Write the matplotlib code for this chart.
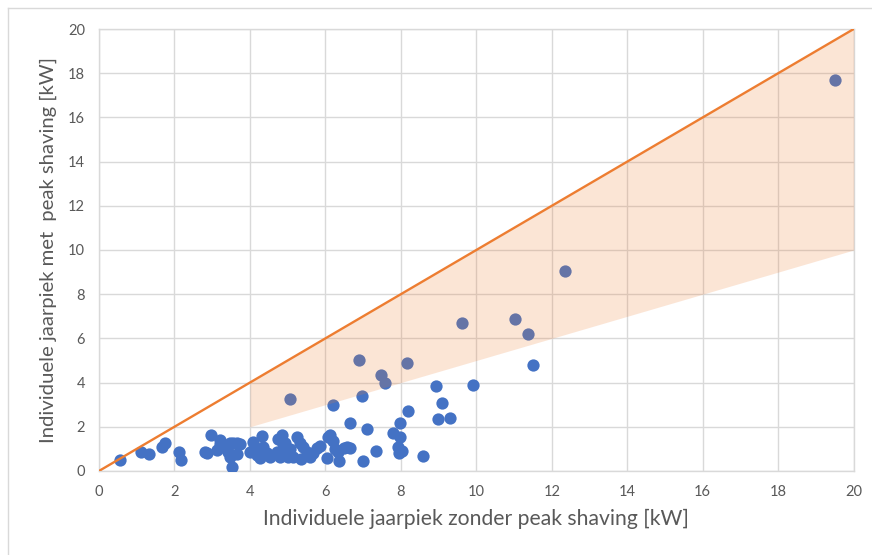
import matplotlib
matplotlib.use("Agg")
import matplotlib.pyplot as plt
from matplotlib.lines import Line2D

# =========================
# DATA
# =========================
# jaarpiek zonder peak shaving [kW]
piek_zonder = [
    0.56, 1.12, 1.33, 1.68, 1.75, 2.13, 2.18, 2.80, 2.85, 2.98,
    3.12, 3.20, 3.20, 3.29, 3.38, 3.43, 3.47, 3.47, 3.56, 3.65,
    3.65, 3.52, 3.75, 4.00, 4.09, 4.12, 4.18, 4.18, 4.26, 4.31,
    4.35, 4.45, 4.53, 4.71, 4.75, 4.84, 4.88, 4.93, 4.80, 4.97,
    5.06, 5.00, 5.15, 5.24, 5.32, 5.35, 5.41, 5.50, 5.59, 5.68,
    5.77, 5.85, 6.03, 6.07, 6.12, 6.21, 6.25, 6.34, 6.36, 6.56,
    6.65, 6.50,
    5.07, 6.21, 6.90, 6.98, 7.48, 7.57, 8.15, 8.92, 9.90, 9.08,
    8.20, 8.98, 9.30, 6.66, 7.11, 7.98, 7.80, 7.99, 7.93, 8.02,
    7.95, 7.35, 7.00, 8.60, 9.62, 11.02, 11.38, 11.50, 12.35, 19.50,
]
# jaarpiek met peak shaving [kW]
piek_met = [
    0.48, 0.85, 0.78, 1.08, 1.28, 0.88, 0.48, 0.88, 0.80, 1.65,
    0.95, 1.38, 1.20, 1.10, 1.05, 0.87, 1.25, 0.65, 1.25, 1.25,
    0.75, 0.20, 1.20, 0.85, 1.30, 1.05, 0.95, 0.72, 0.57, 1.58,
    1.10, 0.80, 0.65, 0.85, 1.45, 1.63, 1.20, 1.25, 0.65, 0.80,
    1.00, 0.65, 0.65, 1.55, 1.25, 0.55, 1.10, 0.87, 0.65, 0.80,
    1.02, 1.15, 0.60, 1.55, 1.63, 1.35, 1.00, 0.87, 0.45, 1.10,
    1.02, 1.05,
    3.25, 2.97, 5.00, 3.38, 4.33, 4.00, 4.88, 3.85, 3.88, 3.08,
    2.71, 2.33, 2.40, 2.15, 1.90, 2.18, 1.70, 1.55, 1.10, 0.92,
    0.80, 0.92, 0.45, 0.66, 6.70, 6.90, 6.22, 4.80, 9.03, 17.70,
]

# reference line y = x and shaded band between y = x/2 and y = x
diag_x = [0, 20]
diag_y = [0, 20]
band_x = [4, 20]
band_low = [2, 10]
band_high = [4, 20]

ticks = list(range(0, 21, 2))

# =========================
# PLOT
# =========================
plt.rcParams["font.family"] = ["Lato", "DejaVu Sans"]

fig = plt.figure(figsize=(8.72, 5.55), dpi=100)
ax = fig.add_axes([0.1135, 0.1514, 0.8655, 0.7963])

grid_col = "#D9D9D9"
text_col = "#595959"

ax.scatter(piek_zonder, piek_met, s=78, color="#4472C4", zorder=3, linewidths=0)
ax.fill_between(band_x, band_low, band_high, color="#ED7D31", alpha=0.2,
                linewidth=0, zorder=4)
ax.plot(diag_x, diag_y, color="#ED7D31", linewidth=1.7, zorder=5)

ax.set_xlim(0, 20)
ax.set_ylim(0, 20)
ax.set_xticks(ticks)
ax.set_yticks(ticks)
ax.grid(True, color=grid_col, linewidth=1.0, zorder=0)
ax.set_axisbelow(True)
for side in ax.spines.values():
    side.set_color(grid_col)
    side.set_linewidth(1.0)
ax.tick_params(length=0, labelsize=10.5, colors=text_col, pad=10)

ax.set_xlabel("Individuele jaarpiek zonder peak shaving [kW]",
              fontsize=15.2, color=text_col, labelpad=7)
ax.set_ylabel("Individuele jaarpiek met  peak shaving [kW]",
              fontsize=14.6, color=text_col, labelpad=8)

# light frame around the chart area (left and top visible in reference)
fig.add_artist(Line2D([8 / 872, 8 / 872], [0, 1 - 8 / 555],
                      transform=fig.transFigure, color=grid_col, linewidth=1))
fig.add_artist(Line2D([8 / 872, 1], [1 - 8 / 555, 1 - 8 / 555],
                      transform=fig.transFigure, color=grid_col, linewidth=1))

fig.savefig("out.png", dpi=100)
